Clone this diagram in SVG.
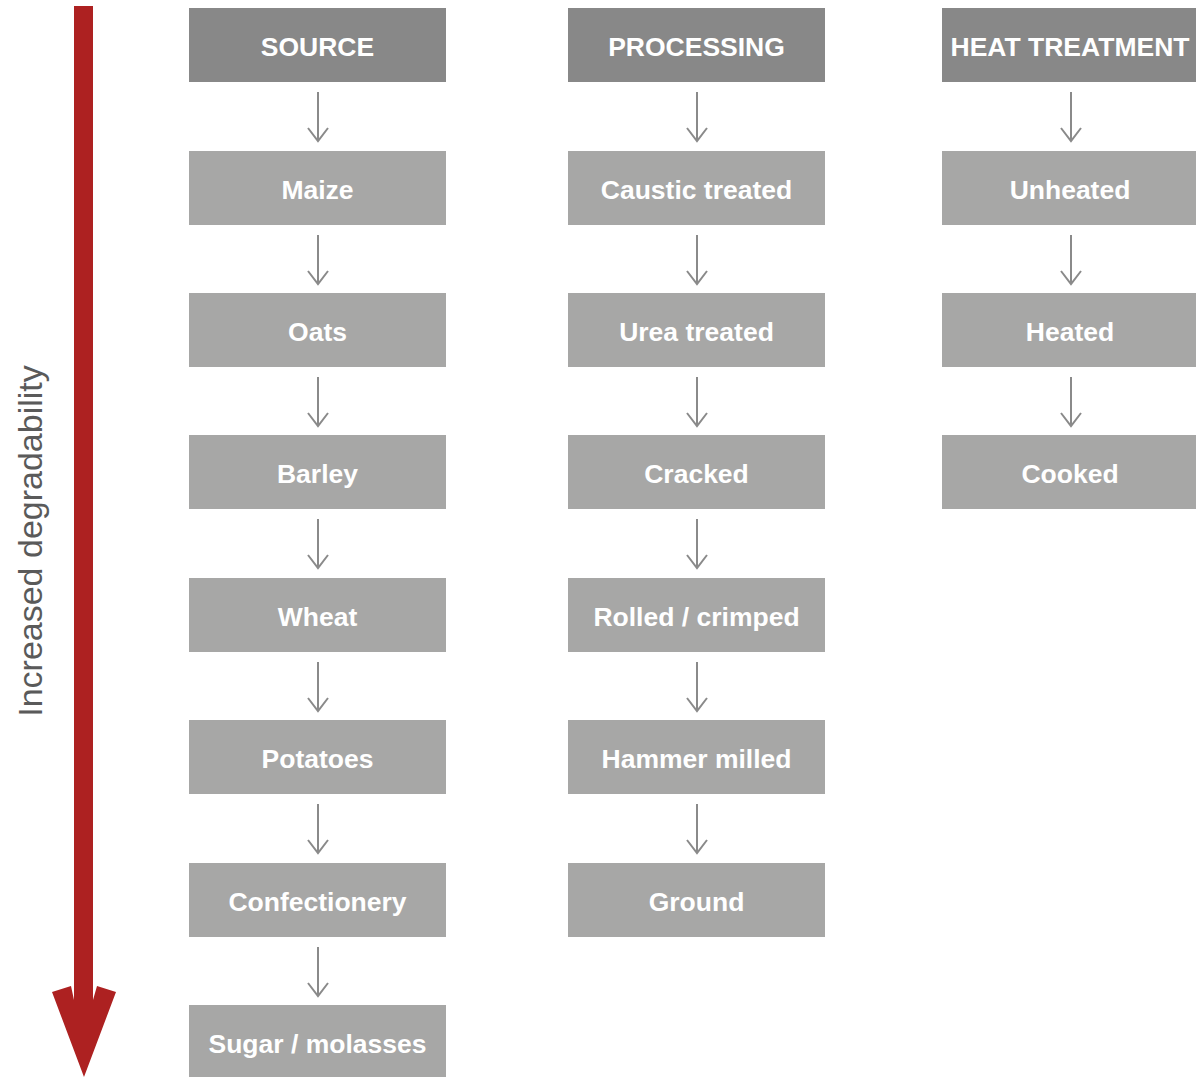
<svg xmlns="http://www.w3.org/2000/svg" width="1196" height="1077" viewBox="0 0 1196 1077">
<style>
.hdr{fill:#888888}
.box{fill:#a7a7a6}
.t{font-family:"Liberation Sans",Arial,sans-serif;font-weight:bold;font-size:26.5px;fill:#ffffff;text-anchor:middle}
.c{stroke:#8a8a8a;stroke-width:2;fill:none}
.side{font-family:"Liberation Sans",Arial,sans-serif;font-size:34px;fill:#5a5a5a;text-anchor:middle}
</style>
<rect width="1196" height="1077" fill="#ffffff"/>
<g id="degradability-arrow">
<polygon points="74,6 93,6 93,1000 97,986 116,992 84,1077 52,992 71,986 74,1000" fill="#ad2121"/>
<text class="side" transform="translate(42,541) rotate(-90)">Increased degradability</text>
</g>
<g id="source"><rect class="hdr" x="189" y="8" width="257" height="74"/><text class="t" x="317.5" y="56">SOURCE</text></g>
<g id="maize"><rect class="box" x="189" y="151" width="257" height="74"/><text class="t" x="317.5" y="199">Maize</text></g>
<g id="oats"><rect class="box" x="189" y="293" width="257" height="74"/><text class="t" x="317.5" y="341">Oats</text></g>
<g id="barley"><rect class="box" x="189" y="435" width="257" height="74"/><text class="t" x="317.5" y="483">Barley</text></g>
<g id="wheat"><rect class="box" x="189" y="578" width="257" height="74"/><text class="t" x="317.5" y="626">Wheat</text></g>
<g id="potatoes"><rect class="box" x="189" y="720" width="257" height="74"/><text class="t" x="317.5" y="768">Potatoes</text></g>
<g id="confectionery"><rect class="box" x="189" y="863" width="257" height="74"/><text class="t" x="317.5" y="911">Confectionery</text></g>
<g id="sugar"><rect class="box" x="189" y="1005" width="257" height="74"/><text class="t" x="317.5" y="1053">Sugar / molasses</text></g>
<g id="processing"><rect class="hdr" x="568" y="8" width="257" height="74"/><text class="t" x="696.5" y="56">PROCESSING</text></g>
<g id="caustic"><rect class="box" x="568" y="151" width="257" height="74"/><text class="t" x="696.5" y="199">Caustic treated</text></g>
<g id="urea"><rect class="box" x="568" y="293" width="257" height="74"/><text class="t" x="696.5" y="341">Urea treated</text></g>
<g id="cracked"><rect class="box" x="568" y="435" width="257" height="74"/><text class="t" x="696.5" y="483">Cracked</text></g>
<g id="rolled"><rect class="box" x="568" y="578" width="257" height="74"/><text class="t" x="696.5" y="626">Rolled / crimped</text></g>
<g id="hammer"><rect class="box" x="568" y="720" width="257" height="74"/><text class="t" x="696.5" y="768">Hammer milled</text></g>
<g id="ground"><rect class="box" x="568" y="863" width="257" height="74"/><text class="t" x="696.5" y="911">Ground</text></g>
<g id="heat"><rect class="hdr" x="942" y="8" width="257" height="74"/><text class="t" x="1070" y="56">HEAT TREATMENT</text></g>
<g id="unheated"><rect class="box" x="942" y="151" width="257" height="74"/><text class="t" x="1070" y="199">Unheated</text></g>
<g id="heated"><rect class="box" x="942" y="293" width="257" height="74"/><text class="t" x="1070" y="341">Heated</text></g>
<g id="cooked"><rect class="box" x="942" y="435" width="257" height="74"/><text class="t" x="1070" y="483">Cooked</text></g>
<defs>
<path id="arr" d="M0,0 V49 M-10,36 L0,49 L10,36"/>
</defs>
<g id="connectors" class="c">
<use href="#arr" x="318" y="92"/>
<use href="#arr" x="318" y="235"/>
<use href="#arr" x="318" y="377"/>
<use href="#arr" x="318" y="519"/>
<use href="#arr" x="318" y="662"/>
<use href="#arr" x="318" y="804"/>
<use href="#arr" x="318" y="947"/>
<use href="#arr" x="697" y="92"/>
<use href="#arr" x="697" y="235"/>
<use href="#arr" x="697" y="377"/>
<use href="#arr" x="697" y="519"/>
<use href="#arr" x="697" y="662"/>
<use href="#arr" x="697" y="804"/>
<use href="#arr" x="1071" y="92"/>
<use href="#arr" x="1071" y="235"/>
<use href="#arr" x="1071" y="377"/>
</g>
</svg>
